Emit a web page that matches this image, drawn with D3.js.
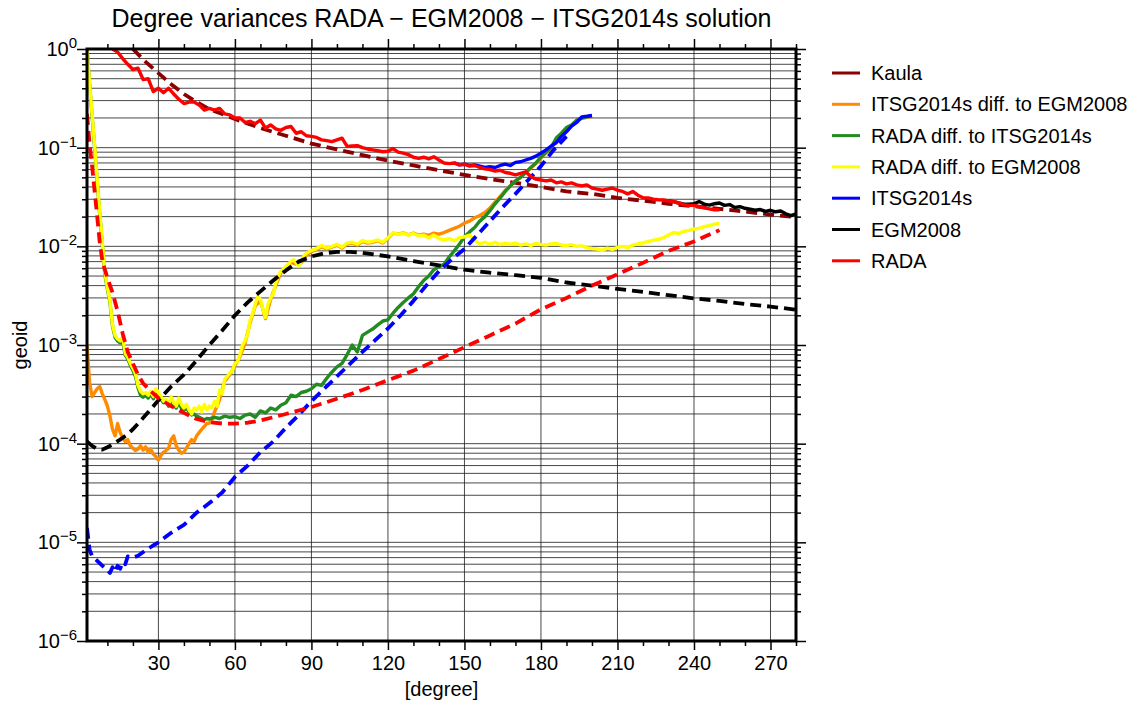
<!DOCTYPE html>
<html><head><meta charset="utf-8">
<script src="https://cdn.jsdelivr.net/npm/d3@7"></script>
<style>
body{margin:0;background:#fff;}
text{font-family:"Liberation Sans",Arial,Helvetica,sans-serif;fill:#000;}
</style>
</head><body>
<svg id="c" width="1148" height="702"></svg>
<script>
// ---------------- DATA ----------------
const titleText = "Degree variances RADA \u2212 EGM2008 \u2212 ITSG2014s solution";
const xLabel = "[degree]";
const yLabel = "geoid";
const xTickLabels = [30, 60, 90, 120, 150, 180, 210, 240, 270];
const xMinorTicks = [10, 20, 40, 50, 70, 80, 100, 110, 130, 140, 160, 170, 190, 200, 220, 230, 250, 260, 280];
const yDecadeExps = [0, -1, -2, -3, -4, -5, -6];

const legendNames = ["Kaula", "ITSG2014s diff. to EGM2008", "RADA diff. to ITSG2014s",
  "RADA diff. to EGM2008", "ITSG2014s", "EGM2008", "RADA"];
const legendColors = ["#8b0000", "#ff8c00", "#228b22", "#ffff00", "#0000ff", "#000000", "#ff0000"];

// Kaula rule (dashed dark red)
const kaulaDeg = [20, 25, 30, 35, 40, 45, 50, 55, 60, 70, 80, 90, 100, 110, 120, 130, 140, 150, 160, 170, 180, 190, 200, 210, 220, 230, 240, 250, 260, 270, 280];
const kaulaVal = [1.0, 0.74, 0.57, 0.44, 0.35, 0.29, 0.245, 0.22, 0.195, 0.158, 0.132, 0.11, 0.096, 0.084, 0.074, 0.066, 0.059, 0.053, 0.048, 0.044, 0.040, 0.036, 0.034, 0.031, 0.029, 0.027, 0.0255, 0.024, 0.0225, 0.021, 0.0197];

// ITSG2014s diff. to EGM2008 (orange)
const orangeDeg = d3.range(2, 55).concat(d3.range(56, 201, 2));
const orangeVal = [
  1.0e-3, 4.2e-4, 3.0e-4, 3.3e-4, 3.6e-4, 3.8e-4, 3.2e-4, 2.8e-4,
  2.4e-4, 1.9e-4, 1.4e-4, 1.2e-4, 1.6e-4, 1.3e-4, 1.15e-4, 1.05e-4, 1.1e-4, 9.5e-5,
  9.0e-5, 8.5e-5, 8.8e-5, 9.5e-5, 8.6e-5, 9.3e-5, 8.2e-5, 8.8e-5, 7.8e-5, 7.4e-5,
  6.8e-5, 7.6e-5, 8.2e-5, 8.5e-5, 9.0e-5, 1.1e-4, 1.2e-4, 9.5e-5, 8.6e-5, 8.0e-5,
  8.2e-5, 9.0e-5, 1.0e-4, 1.1e-4, 1.05e-4, 1.2e-4, 1.3e-4, 1.4e-4, 1.5e-4, 1.6e-4,
  1.62e-4, 1.75e-4, 2.1e-4, 2.4e-4, 2.8e-4,
  4.3e-4, 5.0e-4, 6.2e-4, 7.6e-4, 1.05e-3, 1.7e-3, 2.5e-3, 2.8e-3, 1.85e-3, 2.9e-3,
  4.0e-3, 5.4e-3, 6.1e-3, 6.9e-3, 6.6e-3, 6.8e-3, 8.2e-3, 8.8e-3, 9.3e-3, 9.9e-3,
  9.4e-3, 9.8e-3, 1.03e-2, 9.6e-3, 1.06e-2, 1.08e-2, 1.03e-2, 1.12e-2, 1.08e-2, 1.1e-2,
  1.14e-2, 1.08e-2, 1.2e-2, 1.36e-2, 1.33e-2, 1.37e-2, 1.31e-2, 1.36e-2, 1.3e-2, 1.33e-2,
  1.29e-2, 1.36e-2, 1.33e-2, 1.38e-2, 1.45e-2, 1.52e-2, 1.6e-2, 1.72e-2, 1.8e-2, 1.95e-2,
  2.05e-2, 2.2e-2, 2.45e-2, 2.8e-2, 3.2e-2, 3.7e-2, 4.1e-2, 4.6e-2, 5.0e-2, 5.6e-2,
  6.2e-2, 6.9e-2, 7.9e-2, 8.9e-2, 0.099, 0.123, 0.138, 0.158, 0.168, 0.188,
  0.198, 0.203, 0.208];

// RADA diff. to ITSG2014s (green)
const greenDeg = d3.range(2, 51).concat(d3.range(52, 201, 2));
const greenVal = [
  1.0, 0.44, 0.21, 0.1, 0.046, 0.021, 0.0105, 5.2e-3,
  3.7e-3, 2.7e-3, 1.55e-3, 1.2e-3, 1.1e-3, 1.05e-3, 1.1e-3, 7.9e-4, 7.2e-4, 6.2e-4,
  5.5e-4, 4.8e-4, 3.7e-4, 3.1e-4, 2.95e-4, 3.1e-4, 2.9e-4, 3.2e-4, 2.85e-4, 3.3e-4,
  3.0e-4, 2.8e-4, 2.6e-4, 2.65e-4, 2.4e-4, 2.7e-4, 2.45e-4, 2.3e-4, 2.6e-4, 2.3e-4,
  2.2e-4, 2.3e-4, 2.1e-4, 1.95e-4, 2.0e-4, 1.9e-4, 1.85e-4, 1.8e-4, 1.75e-4, 1.8e-4,
  1.78e-4,
  1.85e-4, 1.8e-4, 1.9e-4, 1.85e-4, 1.88e-4, 1.8e-4, 1.95e-4, 2.0e-4, 1.85e-4, 2.15e-4,
  2.05e-4, 2.3e-4, 2.2e-4, 2.45e-4, 2.6e-4, 3.1e-4, 3.0e-4, 3.3e-4, 3.4e-4, 3.6e-4,
  4.0e-4, 3.9e-4, 4.6e-4, 5.3e-4, 6.0e-4, 6.5e-4, 8.0e-4, 1.0e-3, 8.5e-4, 1.25e-3,
  1.35e-3, 1.45e-3, 1.6e-3, 1.75e-3, 1.8e-3, 2.1e-3, 2.4e-3, 2.7e-3, 3.0e-3, 3.3e-3,
  3.9e-3, 4.5e-3, 5.0e-3, 5.8e-3, 6.2e-3, 6.6e-3, 7.8e-3, 9.0e-3, 1.05e-2, 1.25e-2,
  1.4e-2, 1.55e-2, 1.8e-2, 2.0e-2, 2.3e-2, 2.7e-2, 3.1e-2, 3.6e-2, 4.1e-2, 4.6e-2,
  5.0e-2, 5.6e-2, 6.3e-2, 7.0e-2, 8.0e-2, 9.0e-2, 0.1, 0.125, 0.14, 0.16,
  0.17, 0.19, 0.2, 0.205, 0.21];

// RADA diff. to EGM2008 (yellow)
const yellowDeg = d3.range(2, 91).concat(d3.range(92, 251, 2));
const yellowVal = [
  1.0, 0.45, 0.22, 0.105, 0.048, 0.022, 0.011, 5.4e-3,
  3.8e-3, 2.8e-3, 1.6e-3, 1.25e-3, 1.15e-3, 1.1e-3, 1.2e-3, 8.2e-4, 7.5e-4, 6.5e-4,
  5.8e-4, 5.1e-4, 3.9e-4, 3.4e-4, 3.2e-4, 3.3e-4, 3.1e-4, 3.4e-4, 3.0e-4, 3.6e-4,
  3.3e-4, 3.0e-4, 2.7e-4, 2.8e-4, 2.5e-4, 3.0e-4, 2.6e-4, 2.4e-4, 2.9e-4, 2.5e-4,
  2.3e-4, 2.5e-4, 2.2e-4, 2.0e-4, 2.3e-4, 2.2e-4, 2.4e-4, 2.1e-4, 2.5e-4, 2.2e-4,
  2.4e-4, 2.3e-4, 2.7e-4, 2.4e-4, 3.5e-4, 3.2e-4, 4.5e-4, 4.8e-4, 5.2e-4, 5.5e-4,
  6.5e-4, 6.8e-4, 8.0e-4, 1.0e-3, 1.1e-3, 1.3e-3, 1.8e-3, 2.1e-3, 2.6e-3, 3.1e-3,
  2.9e-3, 2.3e-3, 1.9e-3, 2.6e-3, 3.0e-3, 3.3e-3, 4.2e-3, 5.0e-3, 5.6e-3, 5.9e-3,
  6.3e-3, 6.6e-3, 7.1e-3, 7.3e-3, 6.8e-3, 6.3e-3, 7.0e-3, 8.0e-3, 8.5e-3, 8.8e-3,
  9.1e-3,
  9.5e-3, 1.02e-2, 9.6e-3, 1.0e-2, 1.05e-2, 9.8e-3, 1.08e-2, 1.1e-2, 1.05e-2, 1.15e-2,
  1.1e-2, 1.12e-2, 1.16e-2, 1.1e-2, 1.22e-2, 1.38e-2, 1.32e-2, 1.36e-2, 1.3e-2, 1.35e-2,
  1.28e-2, 1.3e-2, 1.22e-2, 1.3e-2, 1.2e-2, 1.16e-2, 1.2e-2, 1.14e-2, 1.22e-2, 1.25e-2,
  1.3e-2, 1.15e-2, 1.06e-2, 1.1e-2, 1.05e-2, 1.1e-2, 1.04e-2, 1.08e-2, 1.05e-2, 1.08e-2,
  1.03e-2, 1.06e-2, 1.02e-2, 1.07e-2, 1.04e-2, 1.03e-2, 1.06e-2, 1.07e-2, 1.03e-2, 1.02e-2,
  1.04e-2, 1.0e-2, 1.01e-2, 9.7e-3, 9.5e-3, 9.4e-3, 9.1e-3, 9.6e-3, 9.3e-3, 9.8e-3,
  1.0e-2, 9.7e-3, 1.03e-2, 1.06e-2, 1.08e-2, 1.12e-2, 1.15e-2, 1.18e-2, 1.22e-2, 1.3e-2,
  1.38e-2, 1.35e-2, 1.42e-2, 1.45e-2, 1.5e-2, 1.52e-2, 1.58e-2, 1.62e-2, 1.68e-2, 1.72e-2];

// ITSG2014s (blue solid; hidden under RADA below degree ~150)
const itsgDeg = d3.range(146, 201, 2);
const itsgVal = [
  0.07, 0.067, 0.068, 0.066, 0.067, 0.065, 0.063, 0.064, 0.063, 0.066,
  0.068, 0.066, 0.071, 0.072, 0.075, 0.078, 0.082, 0.088, 0.095, 0.104,
  0.112, 0.13, 0.145, 0.165, 0.18, 0.205, 0.208, 0.212];

// ITSG2014s formal error (blue dashed)
const itsgErrDeg = [2, 3, 4, 6, 8, 10, 11, 12, 13, 14, 15, 16, 17, 18, 20, 22, 25, 28, 30, 35, 40, 45, 50, 55, 60, 65, 70, 75, 80, 85, 90, 95, 100, 105, 110, 115, 120, 125, 130, 135, 140, 145, 150, 155, 160, 165, 170, 175, 180, 185, 190];
const itsgErrVal = [1.4e-5, 8.5e-6, 7.2e-6, 6.5e-6, 5.8e-6, 5.2e-6, 4.9e-6, 5.6e-6, 5.0e-6, 5.8e-6, 5.4e-6, 6.3e-6, 6.0e-6, 7.2e-6, 7.0e-6, 7.3e-6, 8.3e-6, 9.3e-6, 1.0e-5, 1.25e-5, 1.5e-5, 2.0e-5, 2.5e-5, 3.2e-5, 4.6e-5, 6.0e-5, 8.2e-5, 1.05e-4, 1.45e-4, 1.95e-4, 2.7e-4, 3.6e-4, 4.8e-4, 6.4e-4, 8.5e-4, 1.12e-3, 1.47e-3, 2.0e-3, 2.8e-3, 4.0e-3, 5.6e-3, 7.4e-3, 9.4e-3, 1.3e-2, 1.8e-2, 2.5e-2, 3.4e-2, 4.7e-2, 6.5e-2, 9.5e-2, 0.13];

// EGM2008 (black solid; hidden under RADA below degree ~236)
const egmDeg = d3.range(230, 281, 2);
const egmVal = [
  0.0288, 0.0284, 0.0275, 0.0268, 0.0268, 0.027, 0.0285, 0.0268, 0.0262, 0.027,
  0.0275, 0.026, 0.0265, 0.0248, 0.0252, 0.0243, 0.0238, 0.0232, 0.0236, 0.0226,
  0.0232, 0.0224, 0.0228, 0.0214, 0.0205, 0.0213];

// EGM2008 formal error (black dashed)
const egmErrDeg = [2, 4, 6, 8, 10, 12, 15, 18, 20, 25, 30, 35, 40, 45, 50, 55, 60, 65, 70, 75, 80, 85, 90, 95, 100, 105, 110, 120, 130, 140, 150, 160, 170, 180, 190, 200, 210, 220, 230, 240, 250, 260, 270, 280];
const egmErrVal = [1.05e-4, 9.5e-5, 8.8e-5, 8.7e-5, 9.2e-5, 9.8e-5, 1.1e-4, 1.25e-4, 1.4e-4, 1.95e-4, 2.75e-4, 3.8e-4, 5.0e-4, 7.0e-4, 1.0e-3, 1.4e-3, 2.0e-3, 2.7e-3, 3.5e-3, 4.5e-3, 5.7e-3, 7.0e-3, 7.9e-3, 8.5e-3, 8.8e-3, 8.8e-3, 8.6e-3, 7.9e-3, 7.1e-3, 6.4e-3, 5.8e-3, 5.4e-3, 5.1e-3, 4.8e-3, 4.3e-3, 4.0e-3, 3.7e-3, 3.45e-3, 3.2e-3, 2.97e-3, 2.8e-3, 2.6e-3, 2.45e-3, 2.28e-3];

// RADA (red solid)
const radaDeg = d3.range(12, 251, 2);
const radaVal = [
  1.0, 0.93, 0.8, 0.7, 0.62, 0.64, 0.49, 0.5, 0.37, 0.4,
  0.36, 0.4, 0.35, 0.31, 0.28, 0.29, 0.29, 0.27, 0.24, 0.25,
  0.24, 0.25, 0.22, 0.215, 0.2, 0.2, 0.18, 0.185, 0.175, 0.19,
  0.158, 0.17, 0.155, 0.15, 0.16, 0.164, 0.14, 0.145, 0.132, 0.13,
  0.127, 0.12, 0.118, 0.115, 0.12, 0.125, 0.103, 0.104, 0.105, 0.1,
  0.097, 0.095, 0.093, 0.091, 0.092, 0.098, 0.09, 0.088, 0.085, 0.08,
  0.078, 0.08, 0.077, 0.081, 0.075, 0.07, 0.069, 0.07, 0.067, 0.068,
  0.065, 0.066, 0.063, 0.061, 0.06, 0.058, 0.059, 0.056, 0.055, 0.053,
  0.055, 0.057, 0.051, 0.048, 0.047, 0.046, 0.047, 0.044, 0.045, 0.043,
  0.044, 0.042, 0.041, 0.042, 0.039, 0.038, 0.037, 0.038, 0.039, 0.037,
  0.036, 0.034, 0.036, 0.033, 0.031, 0.031, 0.03, 0.0297, 0.0295, 0.0288,
  0.0284, 0.0275, 0.0265, 0.026, 0.026, 0.0252, 0.0245, 0.024, 0.0235, 0.0235];

// RADA formal error (red dashed)
const radaErrDeg = [2, 3, 4, 5, 6, 7, 8, 9, 10, 12, 14, 16, 18, 20, 22, 24, 27, 30, 35, 40, 45, 50, 55, 60, 65, 70, 75, 80, 90, 100, 110, 120, 130, 140, 150, 160, 170, 180, 190, 200, 210, 220, 230, 240, 250];
const radaErrVal = [0.22, 0.11, 0.065, 0.036, 0.02, 0.011, 7.2e-3, 5.8e-3, 4.8e-3, 3.4e-3, 2.2e-3, 1.3e-3, 8.5e-4, 6.5e-4, 5.0e-4, 4.1e-4, 3.4e-4, 2.9e-4, 2.4e-4, 2.05e-4, 1.78e-4, 1.65e-4, 1.6e-4, 1.6e-4, 1.63e-4, 1.72e-4, 1.85e-4, 2.0e-4, 2.35e-4, 2.85e-4, 3.5e-4, 4.4e-4, 5.5e-4, 7.2e-4, 9.5e-4, 1.25e-3, 1.65e-3, 2.3e-3, 3.0e-3, 4.0e-3, 5.2e-3, 6.8e-3, 9.0e-3, 1.12e-2, 1.46e-2];

// ---------------- CHART ----------------
const svg = d3.select("#c");
const L = 87, R = 796, T = 49, B = 641;
const x = d3.scaleLinear().domain([2, 280]).range([L, R]);
const y = d3.scaleLog().domain([1e-6, 1]).range([B, T]);

svg.append("rect").attr("width", 1148).attr("height", 702).attr("fill", "#fff");
svg.append("defs").append("clipPath").attr("id", "clip")
  .append("rect").attr("x", L).attr("y", T).attr("width", R - L).attr("height", B - T);

// grid
const yGridVals = [];
for (let e = -6; e < 0; e++) for (let m = 1; m <= 9; m++) yGridVals.push(m * Math.pow(10, e));
const grid = svg.append("g");
grid.selectAll("line.h").data(yGridVals).join("line")
  .attr("x1", L).attr("x2", R).attr("y1", d => y(d)).attr("y2", d => y(d))
  .attr("stroke", "#1a1a1a").attr("stroke-width", 0.8);
grid.selectAll("line.v").data(xTickLabels).join("line")
  .attr("y1", T).attr("y2", B).attr("x1", d => x(d)).attr("x2", d => x(d))
  .attr("stroke", "#1a1a1a").attr("stroke-width", 0.8);

// axes ticks
function styleAxis(g) {
  g.select(".domain").remove();
  g.selectAll(".tick line").attr("stroke", "#000").attr("stroke-width", 1.5);
}
const decades = yDecadeExps.map(e => Math.pow(10, e));
const yMinor = yGridVals.filter(v => !decades.some(d => Math.abs(d - v) / d < 1e-9));

svg.append("g").attr("transform", `translate(0,${B})`)
  .call(d3.axisBottom(x).tickValues(xTickLabels).tickSize(9).tickPadding(6).tickFormat(d3.format("d")))
  .call(styleAxis)
  .call(g => g.selectAll("text").attr("font-size", 20).attr("font-family", "Liberation Sans, Arial, sans-serif"));
svg.append("g").attr("transform", `translate(0,${B})`)
  .call(d3.axisBottom(x).tickValues(xMinorTicks).tickSize(5).tickFormat(""))
  .call(styleAxis);
svg.append("g").attr("transform", `translate(0,${T})`)
  .call(d3.axisTop(x).tickValues(xTickLabels).tickSize(10).tickFormat(""))
  .call(styleAxis);
svg.append("g").attr("transform", `translate(0,${T})`)
  .call(d3.axisTop(x).tickValues(xMinorTicks).tickSize(5).tickFormat(""))
  .call(styleAxis);
svg.append("g").attr("transform", `translate(${L},0)`)
  .call(d3.axisLeft(y).tickValues(decades).tickSize(10).tickFormat(""))
  .call(styleAxis);
svg.append("g").attr("transform", `translate(${L},0)`)
  .call(d3.axisLeft(y).tickValues(yMinor).tickSize(5).tickFormat(""))
  .call(styleAxis);
svg.append("g").attr("transform", `translate(${R},0)`)
  .call(d3.axisRight(y).tickValues(decades).tickSize(10).tickFormat(""))
  .call(styleAxis);
svg.append("g").attr("transform", `translate(${R},0)`)
  .call(d3.axisRight(y).tickValues(yMinor).tickSize(5).tickFormat(""))
  .call(styleAxis);

// y tick labels with superscripts
const yl = svg.append("g");
yDecadeExps.forEach(e => {
  const t = yl.append("text").attr("x", L - 10).attr("y", y(Math.pow(10, e)) + 7)
    .attr("text-anchor", "end").attr("font-size", 20);
  t.append("tspan").text("10");
  t.append("tspan").attr("dy", -8).attr("font-size", 15).text(e === 0 ? "0" : "\u2212" + Math.abs(e));
});

// series
const plot = svg.append("g").attr("clip-path", "url(#clip)");
const line = d3.line().x(d => x(d[0])).y(d => y(d[1]));
function draw(deg, val, color, dashed) {
  const n = Math.min(deg.length, val.length);
  const pts = d3.range(n).map(i => [deg[i], val[i]]);
  plot.append("path").datum(pts).attr("d", line)
    .attr("fill", "none").attr("stroke", color)
    .attr("stroke-width", dashed ? 3.8 : 3.4)
    .attr("stroke-linejoin", "round")
    .attr("stroke-dasharray", dashed ? "11,6" : null);
}
draw(kaulaDeg, kaulaVal, legendColors[0], true);
draw(orangeDeg, orangeVal, legendColors[1], false);
draw(greenDeg, greenVal, legendColors[2], false);
draw(yellowDeg, yellowVal, legendColors[3], false);
draw(itsgDeg, itsgVal, legendColors[4], false);
draw(itsgErrDeg, itsgErrVal, legendColors[4], true);
draw(egmDeg, egmVal, legendColors[5], false);
draw(egmErrDeg, egmErrVal, legendColors[5], true);
draw(radaDeg, radaVal, legendColors[6], false);
draw(radaErrDeg, radaErrVal, legendColors[6], true);

// frame
svg.append("rect").attr("x", L).attr("y", T).attr("width", R - L).attr("height", B - T)
  .attr("fill", "none").attr("stroke", "#000").attr("stroke-width", 3);

// titles
svg.append("text").attr("x", (L + R) / 2).attr("y", 27).attr("text-anchor", "middle")
  .attr("font-size", 25).text(titleText);
svg.append("text").attr("x", (L + R) / 2).attr("y", 696).attr("text-anchor", "middle")
  .attr("font-size", 20).text(xLabel);
svg.append("text").attr("transform", `translate(27,345) rotate(-90)`)
  .attr("text-anchor", "middle").attr("font-size", 20).text(yLabel);

// legend
const lg = svg.append("g");
legendNames.forEach((name, i) => {
  const yy = 73 + i * 31.3;
  lg.append("line").attr("x1", 832).attr("x2", 860).attr("y1", yy).attr("y2", yy)
    .attr("stroke", legendColors[i]).attr("stroke-width", 3);
  lg.append("text").attr("x", 871).attr("y", yy + 7).attr("font-size", 20).text(name);
});
</script>
</body></html>
